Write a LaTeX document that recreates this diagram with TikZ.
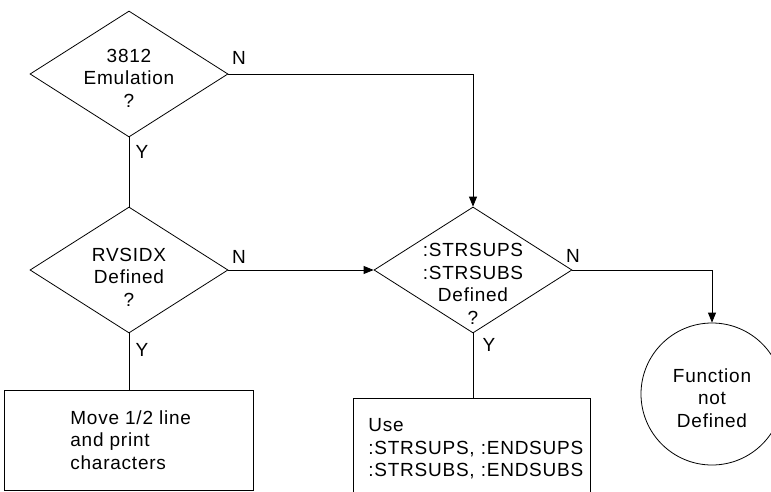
\documentclass[tikz,border=0pt]{standalone}
\usepackage{fontspec}
\setmainfont[LetterSpace=4]{Liberation Sans}
\usetikzlibrary{shapes.geometric,arrows.meta}

\begin{document}
\begin{tikzpicture}[x=1pt,y=-1pt,line width=0.8pt,
  txt/.style={font=\fontsize{19}{22.5}\selectfont,inner sep=0pt},
  decision/.style={diamond,draw,minimum width=198pt,minimum height=126pt,inner sep=0pt},
  procbox/.style={rectangle,draw,inner sep=0pt},
  terminal/.style={circle,draw,minimum size=142pt,inner sep=0pt},
  arr/.style={-{Triangle[length=10pt,width=8pt]}}]

% page frame
\useasboundingbox (0,0) rectangle (771,492);
\fill[white] (0,0) rectangle (771,492);
\clip (0,0) rectangle (771,492);

% decisions
\node[decision] (d1) at (129,74) {};
\node[txt,align=center] (d1t) at (129,78) {3812\\Emulation\\?};

\node[decision] (d2) at (129,270) {};
\node[txt,align=center] (d2t) at (129,277) {RVSIDX\\Defined\\?};

\node[decision] (d3) at (473,270) {};
\node[txt,align=center] (d3t) at (473,284) {:STRSUPS\\:STRSUBS\\Defined\\?};

% process boxes
\node[procbox,minimum width=249pt,minimum height=100pt] (b1) at (128.5,440) {};
\node[txt,align=left,anchor=west] (b1t) at (70,440) {Move 1/2 line\\and print\\characters};

\node[procbox,minimum width=237pt,minimum height=112pt] (b3) at (471.5,454) {};
\node[txt,align=left,anchor=west] (b3t) at (368,449) {Use\\:STRSUPS, :ENDSUPS\\:STRSUBS, :ENDSUBS};

% terminal
\node[terminal] (fn) at (712,394) {};
\node[txt,align=center] (fnt) at (712,398) {Function\\not\\Defined};

% connectors
\draw (d1.south) -- (d2.north);
\draw[arr] (d1.east) -| (d3.north);
\draw[arr] (d2.east) -- (d3.west);
\draw[arr] (d3.east) -| (fn.north);
\draw (d2.south) -- (d2.south |- b1.north);
\draw (d3.south) -- (d3.south |- b3.north);

% branch labels
\node[txt] (n1) at (239,58) {N};
\node[txt] (y1) at (142,152) {Y};
\node[txt] (n2) at (239,257) {N};
\node[txt] (y2) at (142,350) {Y};
\node[txt] (n3) at (573,256) {N};
\node[txt] (y3) at (489,345) {Y};
\end{tikzpicture}
\end{document}
